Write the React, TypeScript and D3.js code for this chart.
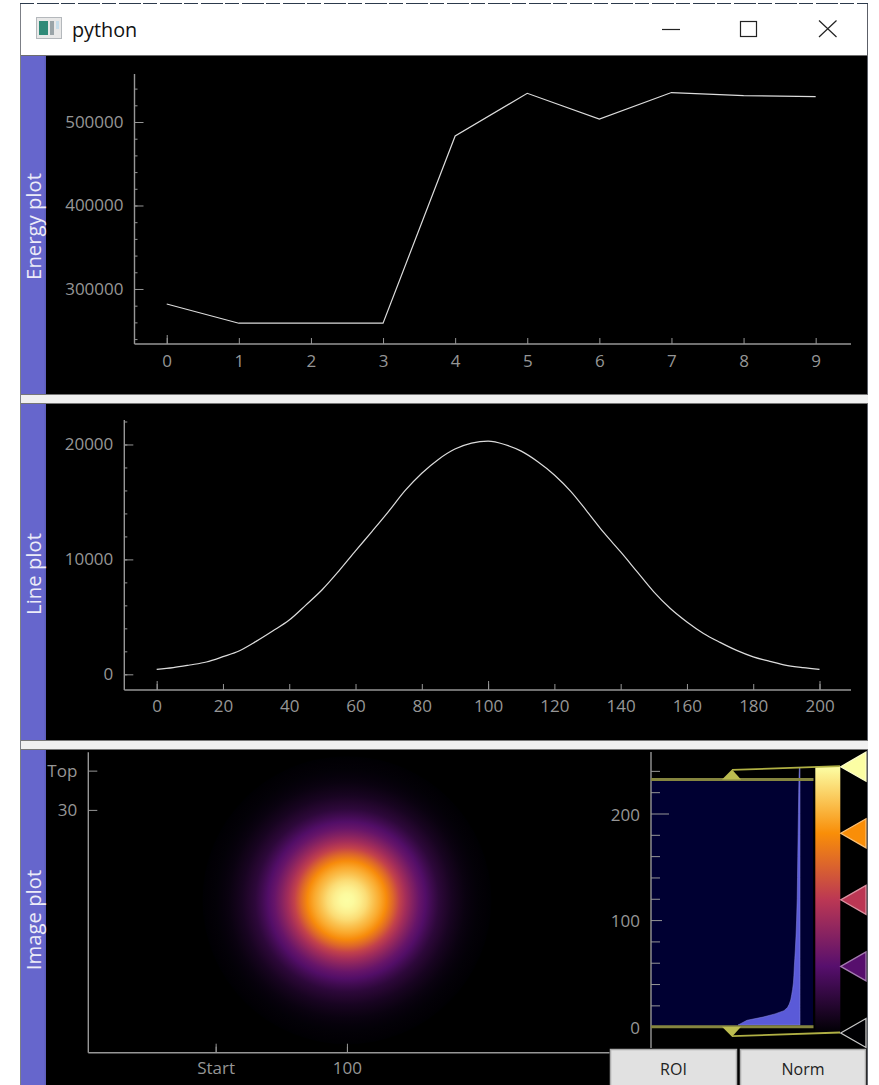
import React, { useEffect, useRef } from "react";
import * as d3 from "d3";

const FONT = "'Open Sans', 'Noto Sans', sans-serif";

// energy plot
const energyX = [0, 1, 2, 3, 4, 5, 6, 7, 8, 9];
const energyY = [282000, 259000, 259000, 259000, 483200, 534400, 503600, 535300, 531700, 530300];
const energyYTicks = [300000, 400000, 500000];

// line plot, read every 5 samples
const lineX = [0, 5, 10, 15, 20, 25, 30, 35, 40, 45, 50, 55, 60, 65, 70, 75, 80, 85, 90, 95, 100,
  105, 110, 115, 120, 125, 130, 135, 140, 145, 150, 155, 160, 165, 170, 175, 180, 185, 190, 195, 200];
const lineY = [434, 579, 810, 1071, 1534, 2055, 2865, 3763, 4718, 6020, 7380, 9000, 10738, 12445, 14182, 16000, 17500, 18700, 19600, 20116, 20290,
  20000, 19420, 18500, 17350, 15900, 14124, 12300, 10651, 8915, 7178, 5731, 4560, 3560, 2779, 2080, 1520, 1129, 781, 579, 434];
const lineXTicks = [0, 20, 40, 60, 80, 100, 120, 140, 160, 180, 200];
const lineYTicks = [0, 10000, 20000];

// image plot, radial profile from the centre outwards
const imageCentre = [100, 99];
const ringStep = 5;
const ringLevels = [1.0, 0.99, 0.965, 0.925, 0.865, 0.81, 0.74, 0.64, 0.53, 0.44, 0.36, 0.29, 0.235, 0.18, 0.13, 0.1, 0.07, 0.05, 0.03, 0.018, 0.01, 0.005, 0];
const imageXTicks = [0, 100];
const imageXLabels = ["Start", "100"];
const imageYTicks = [0, 30];
const imageYLabels = ["Top", "30"];

// histogram of the image levels
const histLevels = [1.5, 3, 6, 9, 12, 15, 18, 21, 25, 30, 35, 41, 48, 56, 64, 72, 85, 100, 120, 140, 160, 180, 200, 220, 235, 243];
const histCounts = [6200, 5900, 5300, 3700, 2500, 1600, 1250, 1080, 930, 830, 740, 660, 610, 570, 520, 470, 400, 340, 280, 250, 220, 190, 160, 130, 100, 60];
const histYTicks = [0, 100, 200];
const regionBounds = [0, 232];

// inferno colour map stops
const cmapStops = [0, 0.25, 0.5, 0.75, 1];
const cmapColours = ["#000003", "#570f6d", "#bb3754", "#f98e08", "#fcfea4"];

const GREY = "#969696";

const styleAxis = (g: any) => {
  g.select(".domain").remove();
  g.selectAll("line").attr("stroke", GREY).attr("stroke-width", 1);
  g.selectAll("text").attr("fill", GREY).attr("font-family", FONT).attr("font-size", 17);
};

const leftAxis = (svg: any, scale: any, x: number, major: number[], minor: number[], majorLen: number, minorLen: number) => {
  const [y0, y1] = scale.range();
  svg.append("line").attr("x1", x).attr("x2", x).attr("y1", y0).attr("y2", y1)
    .attr("stroke", GREY).attr("stroke-width", 1.4);
  svg.append("g").attr("transform", `translate(${x},0)`)
    .call(d3.axisLeft(scale).tickValues(minor).tickSize(-minorLen).tickFormat(() => ""))
    .call(styleAxis);
  svg.append("g").attr("transform", `translate(${x},0)`)
    .call(d3.axisLeft(scale).tickValues(major).tickSize(-majorLen).tickPadding(11).tickFormat(d3.format("d")))
    .call(styleAxis);
};

const bottomAxis = (svg: any, scale: any, y: number, ticks: number[], longTicks: number[], fmt: any, padding = 11) => {
  const [x0, x1] = scale.range();
  svg.append("line").attr("x1", x0).attr("x2", x1).attr("y1", y).attr("y2", y)
    .attr("stroke", GREY).attr("stroke-width", 1.4);
  svg.append("g").attr("transform", `translate(0,${y})`)
    .call(d3.axisBottom(scale).tickValues(ticks).tickSize(-6).tickPadding(padding).tickFormat(fmt))
    .call(styleAxis);
  svg.append("g").attr("transform", `translate(0,${y})`)
    .call(d3.axisBottom(scale).tickValues(longTicks).tickSize(-9).tickFormat(() => ""))
    .call(styleAxis);
};

const App = () => {
  const svgRef = useRef<SVGSVGElement>(null);

  useEffect(() => {
    const svg = d3.select(svgRef.current);
    svg.selectAll("*").remove();
    const defs = svg.append("defs");
    const cmap = d3.scaleLinear<string>().domain(cmapStops).range(cmapColours);

    // window frame
    svg.append("rect").attr("x", 20).attr("y", 4).attr("width", 848).attr("height", 1081).attr("fill", "#fff");
    svg.append("line").attr("x1", 20).attr("x2", 868).attr("y1", 3.5).attr("y2", 3.5)
      .attr("stroke", "#2c3a4c").attr("stroke-dasharray", "14 3 22 2");
    svg.append("rect").attr("x", 21).attr("y", 56).attr("width", 847).attr("height", 1029).attr("fill", "#000");
    svg.append("line").attr("x1", 20.5).attr("x2", 20.5).attr("y1", 4).attr("y2", 1085).attr("stroke", "#7c7f86");
    svg.append("line").attr("x1", 867.5).attr("x2", 867.5).attr("y1", 4).attr("y2", 1085).attr("stroke", "#5c6068");
    svg.append("line").attr("x1", 21).attr("x2", 868).attr("y1", 55.5).attr("y2", 55.5).attr("stroke", "#6e6e6e");

    // title bar
    const icon = svg.append("g");
    icon.append("rect").attr("x", 36.5).attr("y", 17.5).attr("width", 25).attr("height", 21).attr("fill", "#e8e8e8").attr("stroke", "#b4b8bc");
    icon.append("rect").attr("x", 39).attr("y", 21).attr("width", 9).attr("height", 14).attr("fill", "#2f8a78");
    icon.append("rect").attr("x", 50).attr("y", 21).attr("width", 4).attr("height", 14).attr("fill", "#9aa4a8");
    icon.append("rect").attr("x", 56).attr("y", 21).attr("width", 3).attr("height", 8).attr("fill", "#c6ddea");
    svg.append("text").attr("x", 72).attr("y", 37).attr("font-family", FONT).attr("font-size", 19.8).attr("fill", "#111").text("python");
    svg.append("line").attr("x1", 662).attr("x2", 680).attr("y1", 29.5).attr("y2", 29.5).attr("stroke", "#222").attr("stroke-width", 1.2);
    svg.append("rect").attr("x", 740.5).attr("y", 21.5).attr("width", 16).attr("height", 15).attr("fill", "none").attr("stroke", "#222").attr("stroke-width", 1.2);
    svg.append("path").attr("d", "M819,20.5L836.5,37M836.5,20.5L819,37").attr("fill", "none").attr("stroke", "#222").attr("stroke-width", 1.2);

    // dock labels and separators
    svg.append("rect").attr("x", 21).attr("y", 56).attr("width", 25).attr("height", 1029).attr("fill", "#6666cc");
    svg.append("rect").attr("x", 44.5).attr("y", 56).attr("width", 1.5).attr("height", 1029).attr("fill", "#5e5ebc");
    [395, 741].forEach((y) => {
      svg.append("rect").attr("x", 21).attr("y", y).attr("width", 847).attr("height", 8).attr("fill", "#f0f0f0");
      svg.append("line").attr("x1", 21).attr("x2", 868).attr("y1", y - 0.5).attr("y2", y - 0.5).attr("stroke", "#777");
      svg.append("line").attr("x1", 21).attr("x2", 868).attr("y1", y + 8.5).attr("y2", y + 8.5).attr("stroke", "#777");
    });
    [["Energy plot", 226.5], ["Line plot", 574], ["Image plot", 920]].forEach(([label, y]) => {
      svg.append("text").attr("transform", `translate(41,${y}) rotate(-90)`)
        .attr("text-anchor", "middle").attr("font-family", FONT).attr("font-size", 20.3).attr("fill", "#ececf8").text(label as string);
    });

    // energy plot
    const ex = d3.scaleLinear().domain([-0.447, 9.49]).range([134.5, 851]);
    const ey = d3.scaleLinear().domain([234100, 557500]).range([344, 74]);
    leftAxis(svg, ey, 134.5, energyYTicks, d3.range(240000, 557500, 20000), 9, 3);
    bottomAxis(svg, ex, 344, energyX, [0], d3.format("d"));
    svg.append("path").datum(energyX.map((d, i) => [d, energyY[i]]))
      .attr("fill", "none").attr("stroke", "#dcdcdc").attr("stroke-width", 1.2)
      .attr("d", d3.line().x((d) => ex(d[0])).y((d) => ey(d[1])) as any);

    // line plot
    const lx = d3.scaleLinear().domain([-9.77, 209.5]).range([124.3, 851]);
    const ly = d3.scaleLinear().domain([-1365, 22130]).range([690, 420]);
    leftAxis(svg, ly, 124.3, lineYTicks, d3.range(0, 22130, 2000), 9, 3);
    bottomAxis(svg, lx, 690, lineXTicks, [0, 100, 200], d3.format("d"), 10);
    svg.append("path").datum(lineX.map((d, i) => [d, lineY[i]]))
      .attr("fill", "none").attr("stroke", "#dcdcdc").attr("stroke-width", 1.2)
      .attr("d", d3.line().curve(d3.curveMonotoneX).x((d) => lx(d[0])).y((d) => ly(d[1])) as any);

    // image plot
    const ix = d3.scaleLinear().domain([-97, 300]).range([88.3, 609.5]);
    const iy = d3.scaleLinear().domain([-14, 215.5]).range([752.3, 1052.7]);
    const imgGrad = defs.append("radialGradient").attr("id", "imgGrad");
    ringLevels.forEach((v, i) => {
      imgGrad.append("stop").attr("offset", i / (ringLevels.length - 1)).attr("stop-color", cmap(v));
    });
    const ringMax = (ringLevels.length - 1) * ringStep;
    svg.append("ellipse")
      .attr("cx", ix(imageCentre[0])).attr("cy", iy(imageCentre[1]))
      .attr("rx", ix(ringMax) - ix(0)).attr("ry", iy(ringMax) - iy(0))
      .attr("fill", "url(#imgGrad)");
    const imgLeft = svg.append("g");
    imgLeft.append("line").attr("x1", 88.3).attr("x2", 88.3).attr("y1", 752.3).attr("y2", 1052.7).attr("stroke", GREY).attr("stroke-width", 1.4);
    imgLeft.append("g").attr("transform", "translate(88.3,0)")
      .call(d3.axisLeft(iy).tickValues(imageYTicks).tickSize(-9).tickPadding(11).tickFormat((_, i) => imageYLabels[i]))
      .call(styleAxis);
    bottomAxis(svg, ix, 1052.7, imageXTicks, imageXTicks, (_: any, i: number) => imageXLabels[i], 9);

    // histogram panel
    const hy = d3.scaleLinear().domain([-20, 257.7]).range([1048, 752]);
    const hx = d3.scaleLinear().domain([0, 6200]).range([800, 738]);
    svg.append("rect").attr("x", 651).attr("width", 162)
      .attr("y", hy(regionBounds[1])).attr("height", hy(regionBounds[0]) - hy(regionBounds[1]))
      .attr("fill", "#000032");
    svg.append("path").datum(histLevels.map((d, i) => [d, histCounts[i]]))
      .attr("fill", "#5a5ad8").attr("stroke", "#8c8ce0").attr("stroke-width", 0.5)
      .attr("d", d3.area().y((d) => hy(d[0])).x0(hx(0)).x1((d) => hx(d[1])) as any);
    leftAxis(svg, hy, 651, [], d3.range(20, 257, 20).filter((d) => d % 100 !== 0), 0, 9);
    svg.append("g").attr("transform", "translate(651,0)")
      .call(d3.axisLeft(hy).tickValues(histYTicks).tickSize(-18).tickPadding(11).tickFormat(d3.format("d")))
      .call(styleAxis)
      .call((g: any) => g.selectAll(".tick line").filter((d: number) => d === 100).attr("x2", 11))
      .call((g: any) => g.selectAll(".tick text").attr("dy", "0.4em"));

    // gradient bar
    const gy = d3.scaleLinear().domain([0, 1]).range([1033, 766.7]);
    const barGrad = defs.append("linearGradient").attr("id", "barGrad")
      .attr("x1", 0).attr("x2", 0).attr("y1", 1).attr("y2", 0);
    cmapStops.forEach((s, i) => {
      barGrad.append("stop").attr("offset", s).attr("stop-color", cmapColours[i]);
    });
    svg.append("rect").attr("x", 815.3).attr("width", 25).attr("y", gy(1)).attr("height", gy(0) - gy(1)).attr("fill", "url(#barGrad)");

    // region lines and their handles
    const OLIVE = "#85853f";
    const LINK = "#b0b044";
    regionBounds.forEach((level, i) => {
      const y = hy(level);
      svg.append("line").attr("x1", 651).attr("x2", 813.5).attr("y1", y).attr("y2", y).attr("stroke", OLIVE).attr("stroke-width", 3);
      const dir = i === 0 ? 1 : -1;
      svg.append("path").attr("d", `M722,${y}L741,${y}L732,${y + dir * 10}Z`).attr("fill", "#bcbc50");
      const end = gy(i === 0 ? 0 : 1);
      svg.append("line").attr("x1", 732).attr("y1", y + dir * 9.5).attr("x2", 840).attr("y2", end - 0.5)
        .attr("stroke", LINK).attr("stroke-width", 1.8);
    });

    // colour map handles
    cmapStops.forEach((s, i) => {
      const y = gy(s);
      svg.append("path").attr("d", `M840.7,${y}L866,${y - 14.5}L866,${y + 14.5}Z`)
        .attr("fill", cmapColours[i]).attr("stroke", i === 0 ? "#c8c8c8" : d3.interpolateRgb(cmapColours[i], "#fff")(0.45)).attr("stroke-width", 1.3);
    });

    // buttons
    [["ROI", 610, 127], ["Norm", 740, 126]].forEach(([label, x, w]) => {
      svg.append("rect").attr("x", (x as number) + 0.5).attr("y", 1049.5).attr("width", (w as number) - 1).attr("height", 40)
        .attr("fill", "#e1e1e1").attr("stroke", "#adadad").attr("stroke-width", 1.5);
      svg.append("text").attr("x", (x as number) + (w as number) / 2).attr("y", 1075).attr("text-anchor", "middle")
        .attr("font-family", FONT).attr("font-size", 16).attr("fill", "#222").text(label as string);
    });
  }, []);

  return (
    <svg
      ref={svgRef}
      width={879}
      height={1085}
      style={{ position: "absolute", left: 0, top: 0, background: "#fff" }}
    />
  );
};

export default App;
